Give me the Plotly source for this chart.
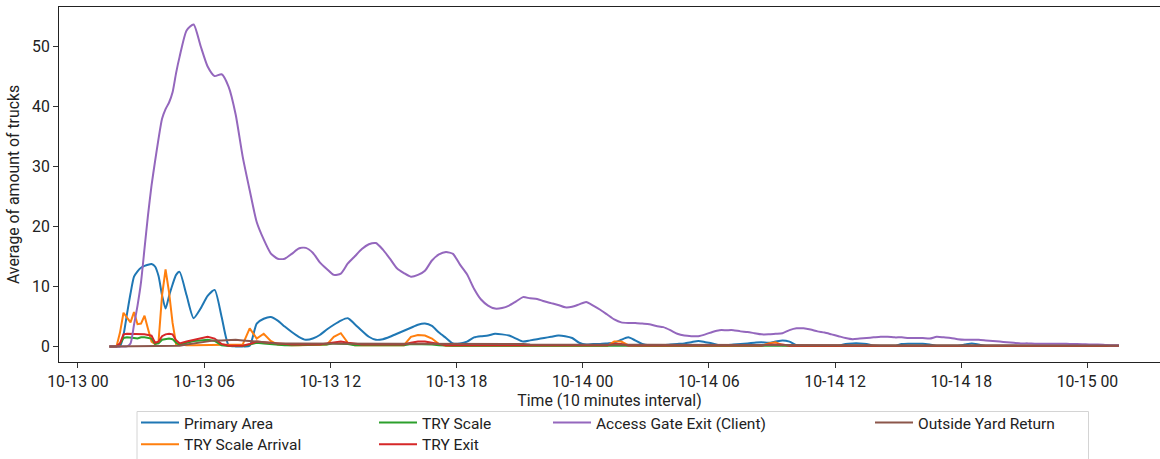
import pandas as pd
import plotly.graph_objects as go

# time axis: 10-minute steps first, then 20-minute steps
times = list(pd.date_range("2023-10-13 01:30", "2023-10-13 04:50", freq="10min")) + \
        list(pd.date_range("2023-10-13 05:10", periods=134, freq="20min"))

primary_area = [
    0, 0, 0, 0, 1.9, 5.4, 8.8, 11.6, 12.5, 13.1, 13.4, 13.6, 13.7, 13.3, 11.7, 8.5, 6.3, 8.4, 10.3, 11.9, 12.4,
    8.5, 4.7, 6.3, 8.4, 9.4, 4.9, 0.2, 0, 0,
    0.1, 3.8, 4.6, 4.9, 4.3, 3.3, 2.4, 1.6, 1.1, 1.3,
    1.9, 2.8, 3.6, 4.3, 4.7, 3.7, 2.6, 1.6, 1.1, 1.2,
    1.6, 2.1, 2.6, 3.1, 3.6, 3.8, 3.4, 2.3, 1.4, 0.5,
    0.5, 0.8, 1.5, 1.7, 1.8, 2.1, 2.0, 1.8, 1.3, 0.8,
    1.0, 1.2, 1.4, 1.6, 1.8, 1.7, 1.4, 0.6, 0.3, 0.4,
    0.4, 0.5, 0.6, 1.1, 1.5, 1.0, 0.4, 0.2, 0.2, 0.2,
    0.3, 0.4, 0.5, 0.7, 0.9, 0.7, 0.5, 0.2, 0.2, 0.3,
    0.4, 0.5, 0.6, 0.7, 0.6, 0.8, 1.0, 0.8, 0.2, 0.1,
    0.1, 0.1, 0.1, 0.1, 0.1, 0.4, 0.5, 0.5, 0.4, 0.1,
    0.1, 0.1, 0.1, 0.4, 0.45, 0.45, 0.45, 0.3, 0.1, 0.1,
    0.1, 0.1, 0.3, 0.5, 0.3, 0.1, 0.1, 0.1, 0.1, 0.1,
    0.05, 0.05, 0.05, 0.05, 0.05, 0.05, 0.05, 0.05, 0.05, 0.05,
    0.05, 0.05, 0.05, 0.05, 0.05,
]

try_scale_arrival = [
    0, 0, 0, 2.3, 5.6, 4.8, 4.0, 5.7, 3.7, 3.8, 5.1, 2.9, 0.8, 0.4, 0.8, 8.5, 12.8, 9.0, 3.9, 0.4, 0.3,
    0.2, 0.2, 0.2, 0.2, 0.2, 0.2, 0.2, 0.2, 0.3,
    3.0, 1.3, 2.1, 0.9, 0.3, 0.2, 0.2, 0.2, 0.2, 0.2,
    0.2, 0.3, 1.6, 2.2, 0.6, 0.2, 0.2, 0.2, 0.2, 0.2,
    0.2, 0.2, 0.2, 1.6, 1.9, 1.8, 1.3, 0.4, 0.1, 0.1,
    0.1, 0.1, 0.1, 0.1, 0.1, 0.1, 0.1, 0.1, 0.1, 0.1,
    0.1, 0.1, 0.1, 0.1, 0.1, 0.1, 0.1, 0.1, 0.1, 0.1,
    0.1, 0.1, 0.8, 0.8, 0.2, 0.1, 0.1, 0.1, 0.1, 0.1,
    0.1, 0.1, 0.1, 0.1, 0.1, 0.1, 0.1, 0.1, 0.1, 0.1,
    0.1, 0.1, 0.1, 0.1, 0.5, 0.7, 0.2, 0.1, 0.1, 0.1,
    0.05, 0.05, 0.05, 0.05, 0.05, 0.05, 0.05, 0.05, 0.05, 0.05,
    0.05, 0.05, 0.05, 0.05, 0.05, 0.05, 0.05, 0.05, 0.05, 0.05,
    0.05, 0.05, 0.05, 0.05, 0.05, 0.05, 0.05, 0.05, 0.05, 0.05,
    0.05, 0.05, 0.05, 0.05, 0.05, 0.05, 0.05, 0.05, 0.05, 0.05,
    0.05, 0.05, 0.05, 0.05, 0.05,
]

try_scale = [
    0, 0, 0, 0.4, 1.4, 1.5, 1.5, 1.4, 1.3, 1.5, 1.5, 1.4, 1.3, 0.4, 0.5, 1.1, 1.2, 1.3, 1.2, 0.6, 0.3,
    0.6, 0.9, 1.0, 1.1, 0.9, 0.2, 0.05, 0.05, 0.05,
    0.3, 0.6, 0.5, 0.4, 0.2, 0.2, 0.2, 0.2, 0.2, 0.2,
    0.2, 0.3, 0.5, 0.5, 0.4, 0.2, 0.2, 0.2, 0.2, 0.2,
    0.2, 0.2, 0.2, 0.4, 0.4, 0.4, 0.3, 0.2, 0.1, 0.1,
    0.1, 0.1, 0.1, 0.1, 0.1, 0.1, 0.1, 0.1, 0.1, 0.1,
    0.1, 0.1, 0.1, 0.1, 0.1, 0.1, 0.1, 0.1, 0.1, 0.1,
    0.1, 0.1, 0.1, 0.1, 0.1, 0.1, 0.1, 0.1, 0.1, 0.1,
    0.1, 0.1, 0.1, 0.1, 0.1, 0.1, 0.1, 0.1, 0.1, 0.1,
    0.1, 0.1, 0.1, 0.1, 0.1, 0.1, 0.1, 0.1, 0.1, 0.1,
    0.1, 0.1, 0.1, 0.1, 0.1, 0.1, 0.1, 0.1, 0.1, 0.1,
    0.1, 0.1, 0.1, 0.1, 0.1, 0.1, 0.1, 0.1, 0.1, 0.1,
    0.1, 0.1, 0.1, 0.1, 0.1, 0.1, 0.1, 0.1, 0.1, 0.1,
    0.1, 0.1, 0.1, 0.1, 0.1, 0.1, 0.1, 0.1, 0.1, 0.1,
    0.1, 0.1, 0.1, 0.1, 0.1,
]

try_exit = [
    0, 0, 0, 0.5, 2.0, 2.1, 2.1, 2.0, 2.0, 2.0, 2.0, 1.9, 1.8, 0.6, 0.8, 1.7, 2.0, 2.1, 2.0, 1.0, 0.5,
    0.8, 1.1, 1.4, 1.6, 1.3, 0.4, 0.1, 0.1, 0.1,
    0.4, 0.8, 0.7, 0.6, 0.4, 0.3, 0.3, 0.3, 0.3, 0.3,
    0.3, 0.5, 0.7, 0.8, 0.6, 0.4, 0.3, 0.3, 0.3, 0.3,
    0.3, 0.3, 0.3, 0.6, 0.8, 0.8, 0.6, 0.3, 0.2, 0.2,
    0.2, 0.2, 0.2, 0.2, 0.2, 0.2, 0.2, 0.2, 0.2, 0.2,
    0.2, 0.2, 0.2, 0.2, 0.2, 0.2, 0.2, 0.2, 0.2, 0.2,
    0.2, 0.2, 0.4, 0.4, 0.15, 0.15, 0.15, 0.15, 0.15, 0.15,
    0.15, 0.15, 0.15, 0.15, 0.15, 0.15, 0.15, 0.15, 0.15, 0.15,
    0.15, 0.15, 0.15, 0.15, 0.3, 0.3, 0.3, 0.1, 0.1, 0.1,
    0.1, 0.1, 0.1, 0.1, 0.1, 0.1, 0.1, 0.1, 0.1, 0.1,
    0.1, 0.1, 0.1, 0.1, 0.1, 0.1, 0.1, 0.1, 0.1, 0.1,
    0.1, 0.1, 0.1, 0.1, 0.1, 0.1, 0.1, 0.1, 0.1, 0.1,
    0.1, 0.1, 0.1, 0.1, 0.1, 0.1, 0.1, 0.1, 0.1, 0.1,
    0.1, 0.1, 0.1, 0.1, 0.1,
]

access_gate_exit = [
    0, 0, 0, 0, 0, 0, 0.5, 3.6, 6.8, 10.7, 16.3, 21.9, 26.8, 30.8, 34.6, 37.9, 39.5, 40.6, 42.3, 45.5, 48.2,
    52.6, 53.6, 50.0, 46.6, 45.0, 45.3, 43.2, 38.6, 31.6,
    26.0, 20.7, 17.8, 15.5, 14.6, 14.6, 15.4, 16.3, 16.4, 15.6,
    14.0, 12.9, 11.9, 12.1, 13.8, 15.0, 16.2, 17.0, 17.2, 16.1,
    14.6, 13.0, 12.2, 11.6, 11.9, 12.6, 14.3, 15.3, 15.7, 15.4,
    13.6, 12.0, 9.6, 7.8, 6.8, 6.3, 6.4, 6.8, 7.5, 8.2,
    8.0, 7.9, 7.5, 7.2, 6.9, 6.5, 6.6, 7.0, 7.4, 6.8,
    6.1, 5.3, 4.5, 4.0, 3.9, 3.9, 3.8, 3.7, 3.4, 3.2,
    2.7, 2.1, 1.8, 1.7, 1.7, 2.0, 2.4, 2.7, 2.7, 2.7,
    2.5, 2.4, 2.2, 2.0, 2.0, 2.1, 2.2, 2.7, 3.0, 3.0,
    2.8, 2.5, 2.3, 2.0, 1.7, 1.4, 1.2, 1.3, 1.4, 1.5,
    1.6, 1.6, 1.5, 1.5, 1.4, 1.4, 1.4, 1.3, 1.6, 1.5,
    1.4, 1.2, 1.1, 1.1, 1.1, 1.0, 0.9, 0.8, 0.7, 0.6,
    0.5, 0.5, 0.45, 0.45, 0.45, 0.45, 0.45, 0.4, 0.4, 0.35,
    0.3, 0.3, 0.25, 0.2, 0.2,
]

outside_yard_return = [
    0, 0, 0, 0, 0, 0, 0, 0, 0, 0, 0, 0, 0, 0, 0, 0, 0, 0, 0, 0, 0.1,
    0.3, 0.5, 0.7, 0.9, 1.0, 1.0, 1.1, 1.1, 1.0,
    0.9, 0.7, 0.6, 0.5, 0.5, 0.5, 0.5, 0.5, 0.5, 0.5,
    0.5, 0.5, 0.5, 0.5, 0.5, 0.5, 0.5, 0.5, 0.5, 0.5,
    0.4, 0.4, 0.4, 0.4, 0.4, 0.4, 0.4, 0.4, 0.4, 0.4,
    0.4, 0.4, 0.4, 0.4, 0.4, 0.4, 0.4, 0.4, 0.4, 0.4,
    0.3, 0.3, 0.3, 0.3, 0.3, 0.3, 0.3, 0.3, 0.3, 0.3,
    0.3, 0.3, 0.3, 0.3, 0.3, 0.3, 0.3, 0.3, 0.3, 0.3,
    0.2, 0.2, 0.2, 0.2, 0.2, 0.2, 0.2, 0.2, 0.2, 0.2,
    0.2, 0.2, 0.2, 0.2, 0.2, 0.2, 0.2, 0.2, 0.2, 0.2,
    0.2, 0.2, 0.2, 0.2, 0.2, 0.2, 0.2, 0.2, 0.2, 0.2,
    0.15, 0.15, 0.15, 0.15, 0.15, 0.15, 0.15, 0.15, 0.15, 0.15,
    0.15, 0.15, 0.15, 0.15, 0.15, 0.15, 0.15, 0.15, 0.15, 0.15,
    0.15, 0.15, 0.15, 0.15, 0.15, 0.15, 0.15, 0.15, 0.15, 0.15,
    0.15, 0.15, 0.15, 0.15, 0.15,
]

# name, values, colour, legend slot, line shape
series = [
    ("Primary Area", primary_area, "#1f77b4", "legend", "spline"),
    ("TRY Scale Arrival", try_scale_arrival, "#ff7f0e", "legend2", "linear"),
    ("TRY Scale", try_scale, "#2ca02c", "legend3", "linear"),
    ("TRY Exit", try_exit, "#d62728", "legend4", "linear"),
    ("Access Gate Exit (Client)", access_gate_exit, "#9467bd", "legend5", "spline"),
    ("Outside Yard Return", outside_yard_return, "#8c564b", "legend6", "linear"),
]

FONT = "Roboto"
FS = 15.8
LFS = 15.5
TXT = "#222222"

fig = go.Figure()
for name, vals, color, leg, shape in series:
    line = dict(color=color, width=2, shape=shape)
    if shape == "spline":
        line["smoothing"] = 0.6
    fig.add_trace(go.Scatter(x=times, y=vals, name=name, mode="lines", line=line, legend=leg))

W, H = 1160, 459
ml, mr, mt, mb = 59, 0, 7, 97
pw, ph = W - ml - mr, H - mt - mb


def px_x(p):
    return (p - ml) / pw


def px_y(p):
    return (H - mb - p) / ph


leg_common = dict(orientation="v", xanchor="left", yanchor="top", bgcolor="rgba(0,0,0,0)",
                  font=dict(family=FONT, size=LFS, color=TXT), tracegroupgap=0, itemwidth=38,
                  borderwidth=0)
row1, row2 = px_y(406), px_y(427.7)
col1, col2, col3, col4 = px_x(136), px_x(374), px_x(548), px_x(870)

fig.update_layout(
    width=W, height=H,
    margin=dict(l=ml, r=mr, t=mt, b=mb, autoexpand=False),
    paper_bgcolor="white", plot_bgcolor="white",
    font=dict(family=FONT, size=FS, color=TXT),
    showlegend=True,
    legend=dict(x=col1, y=row1, **leg_common),
    legend2=dict(x=col1, y=row2, **leg_common),
    legend3=dict(x=col2, y=row1, **leg_common),
    legend4=dict(x=col2, y=row2, **leg_common),
    legend5=dict(x=col3, y=row1, **leg_common),
    legend6=dict(x=col4, y=row1, **leg_common),
    xaxis=dict(
        type="date",
        range=["2023-10-12 23:06", "2023-10-15 03:27"],
        tick0="2023-10-13 00:00", dtick=6 * 3600 * 1000,
        tickformat="%m-%d %H",
        ticks="outside", ticklen=5, tickcolor="#333333", tickwidth=1,
        showline=True, linecolor="#222222", linewidth=1, mirror=True,
        showgrid=False, zeroline=False,
        tickfont=dict(family=FONT, size=FS, color=TXT),
        title=dict(text="Time (10 minutes interval)", standoff=1,
                   font=dict(family=FONT, size=FS, color=TXT)),
        automargin=False,
    ),
    yaxis=dict(
        range=[-2.6, 56.5], tick0=0, dtick=10,
        ticks="outside", ticklen=5, tickcolor="#333333", tickwidth=1,
        showline=True, linecolor="#222222", linewidth=1,
        showgrid=False, zeroline=False,
        tickfont=dict(family=FONT, size=FS, color=TXT),
        title=dict(text="Average of amount of trucks", standoff=8,
                   font=dict(family=FONT, size=FS, color=TXT)),
        automargin=False,
    ),
    shapes=[dict(type="rect", xref="paper", yref="paper",
                 x0=px_x(137), x1=px_x(1088.5), y0=px_y(411.5), y1=px_y(475),
                 line=dict(color="#d4d4d4", width=1), fillcolor="rgba(0,0,0,0)", layer="above")],
)

fig.write_html("out.html", config={"displayModeBar": False},
               post_script="document.body.style.margin='0px';")
